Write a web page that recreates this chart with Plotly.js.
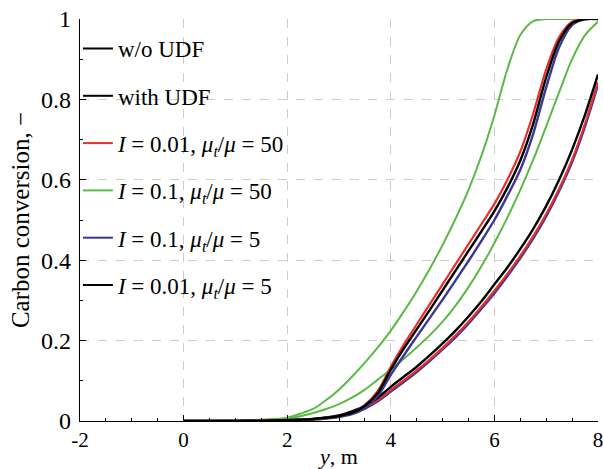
<!DOCTYPE html>
<html>
<head>
<meta charset="utf-8">
<script src="https://cdn.plot.ly/plotly-3.0.1.min.js"></script>
<style>html,body{margin:0;padding:0;background:#fff;}#chart{width:603px;height:469px;}</style>
</head>
<body>
<div id="chart"></div>
<script>
// x positions (m)
const xVals = [0, 0.5, 1, 1.5, 2, 2.25, 2.5, 2.75, 3, 3.25, 3.5, 3.75, 4, 4.25, 4.5, 4.75, 5, 5.25, 5.5, 5.75, 6, 6.25, 6.5, 6.75, 7, 7.25, 7.5, 7.75, 8];

// w/o UDF
const woRed   = [0, 0, 0, 0.001, 0.002, 0.003, 0.005, 0.008, 0.012, 0.02, 0.04, 0.075, 0.135, 0.19, 0.24, 0.29, 0.34, 0.39, 0.44, 0.49, 0.54, 0.6, 0.67, 0.765, 0.875, 0.955, 0.993, 1, 1];
const woGreen = [0, 0, 0.001, 0.003, 0.008, 0.018, 0.03, 0.052, 0.078, 0.11, 0.145, 0.183, 0.225, 0.272, 0.323, 0.378, 0.438, 0.503, 0.575, 0.66, 0.76, 0.875, 0.96, 0.995, 1, 1, 1, 1, 1];
const woBlue  = [0, 0, 0, 0.001, 0.002, 0.003, 0.004, 0.006, 0.01, 0.017, 0.032, 0.062, 0.115, 0.163, 0.21, 0.256, 0.302, 0.35, 0.398, 0.448, 0.5, 0.56, 0.625, 0.715, 0.83, 0.93, 0.985, 0.999, 1];
const woBlack = [0, 0, 0, 0.001, 0.002, 0.003, 0.005, 0.008, 0.012, 0.02, 0.038, 0.07, 0.128, 0.18, 0.228, 0.276, 0.325, 0.374, 0.423, 0.472, 0.522, 0.58, 0.648, 0.74, 0.855, 0.945, 0.99, 1, 1];

// with UDF
const wRed   = [0, 0, 0, 0.001, 0.002, 0.003, 0.005, 0.008, 0.012, 0.021, 0.033, 0.052, 0.077, 0.101, 0.126, 0.153, 0.182, 0.213, 0.247, 0.284, 0.324, 0.366, 0.411, 0.46, 0.515, 0.578, 0.65, 0.74, 0.843];
const wGreen = [0, 0, 0.001, 0.002, 0.006, 0.012, 0.02, 0.03, 0.042, 0.058, 0.078, 0.103, 0.128, 0.155, 0.183, 0.213, 0.247, 0.287, 0.333, 0.385, 0.443, 0.506, 0.575, 0.65, 0.733, 0.818, 0.9, 0.96, 0.993];
const wBlue  = [0, 0, 0, 0.001, 0.002, 0.003, 0.004, 0.007, 0.011, 0.019, 0.031, 0.049, 0.073, 0.097, 0.122, 0.149, 0.178, 0.208, 0.242, 0.279, 0.318, 0.36, 0.405, 0.454, 0.509, 0.572, 0.644, 0.733, 0.836];
const wBlack = [0, 0, 0, 0.001, 0.002, 0.003, 0.005, 0.009, 0.014, 0.024, 0.037, 0.058, 0.085, 0.11, 0.135, 0.163, 0.193, 0.225, 0.26, 0.298, 0.34, 0.382, 0.428, 0.478, 0.535, 0.6, 0.675, 0.762, 0.862];

// legend labels
const legendLabels = [
  "w/o UDF",
  "with UDF",
  "<i>I</i> = 0.01, <i>μ</i><sub><i>t</i></sub>/<i>μ</i> = 50",
  "<i>I</i> = 0.1, <i>μ</i><sub><i>t</i></sub>/<i>μ</i> = 50",
  "<i>I</i> = 0.1, <i>μ</i><sub><i>t</i></sub>/<i>μ</i> = 5",
  "<i>I</i> = 0.01, <i>μ</i><sub><i>t</i></sub>/<i>μ</i> = 5"
];
const legendColors = ["#000000", "#000000", "#e8302a", "#5cb946", "#3b3798", "#000000"];

// tick labels
const xTickVals = [-2, 0, 2, 4, 6, 8];
const xTickText = ["-2", "0", "2", "4", "6", "8"];

const RED = "#e8302a", GREEN = "#5cb946", BLUE = "#3b3798", BLACK = "#000000";

function line(y, color, w) {
  return {x: xVals, y: y, type: "scatter", mode: "lines", showlegend: false,
          line: {color: color, width: w, shape: "spline", smoothing: 0.8}, hoverinfo: "skip"};
}

const traces = [
  line(wGreen, GREEN, 2), line(wBlue, BLUE, 2.4), line(wRed, RED, 2.2), line(wBlack, BLACK, 2.4),
  line(woGreen, GREEN, 2), line(woBlue, BLUE, 2.4), line(woRed, RED, 2.2), line(woBlack, BLACK, 2.4)
];

legendLabels.forEach((lab, i) => {
  traces.push({x: [null], y: [null], type: "scatter", mode: "lines", name: lab,
               legendgroup: "g" + i, showlegend: true,
               line: {color: legendColors[i], width: 2}});
});

const serif = "Liberation Serif, DejaVu Serif, serif";

const layout = {
  width: 603, height: 469,
  margin: {l: 80, r: 5, t: 19, b: 48},
  paper_bgcolor: "#fff", plot_bgcolor: "#fff",
  font: {family: serif, size: 20, color: "#000"},
  showlegend: true,
  legend: {x: -0.004, y: 0.98, xanchor: "left", yanchor: "top",
           bgcolor: "rgba(0,0,0,0)", borderwidth: 0,
           font: {family: serif, size: 23, color: "#000"},
           tracegroupgap: 14.4, itemwidth: 30},
  xaxis: {
    range: [-2, 8], tickvals: xTickVals, ticktext: xTickText,
    showgrid: true, gridcolor: "#cccccc", griddash: "dash", gridwidth: 1,
    showline: true, linecolor: "#000", linewidth: 1.2, mirror: false,
    ticks: "inside", ticklen: 6, tickcolor: "#000", zeroline: false,
    ticklabeloverflow: "allow",
    minor: {dtick: 0.5, ticks: "inside", ticklen: 3, tickcolor: "#000", showgrid: false},
    tickfont: {family: serif, size: 21},
    title: {text: "<i>y</i>, m", font: {family: serif, size: 22}, standoff: 2}
  },
  yaxis: {
    range: [0, 1], dtick: 0.2,
    showgrid: true, gridcolor: "#cccccc", griddash: "dash", gridwidth: 1,
    showline: true, linecolor: "#000", linewidth: 1.2, mirror: false,
    ticks: "inside", ticklen: 6, tickcolor: "#000", zeroline: false,
    ticklabelstandoff: 3, ticklabeloverflow: "allow",
    minor: {dtick: 0.1, ticks: "inside", ticklen: 3, tickcolor: "#000", showgrid: false},
    tickfont: {family: serif, size: 24},
    title: {text: "Carbon conversion, −", font: {family: serif, size: 25}, standoff: 4}
  }
};

Plotly.newPlot("chart", traces, layout, {displayModeBar: false, staticPlot: true});
</script>
</body>
</html>
